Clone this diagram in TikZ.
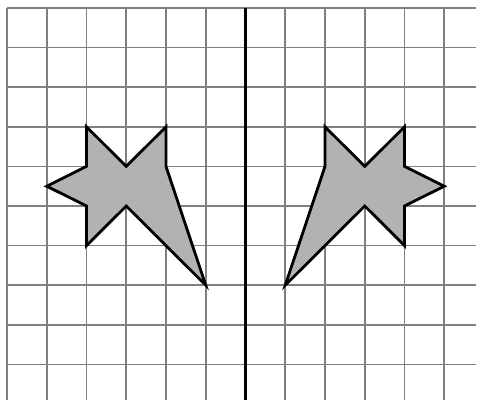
\documentclass[tikz,border=0pt]{standalone}
\begin{document}
\begin{tikzpicture}[x=1pt,y=-1pt,
  gridline/.style={draw=black!50, line width=1.6pt},
  axisline/.style={draw=black, line width=3pt},
  starshape/.style={draw=black, fill=black!30, line width=2.8pt, line join=miter}]
\useasboundingbox (0,0) rectangle (478,400);
\fill[white] (0,0) rectangle (478,400);
\begin{scope}[shift={(7,8)}, x=39.75pt, y=-39.6pt]
  \foreach \i in {0,...,11} \draw[gridline] (\i,0) -- (\i,9.9);
  \foreach \j in {0,...,9} \draw[gridline] (0,\j) -- (11.8,\j);
  \draw[axisline] (6,0) -- (6,9.9);
  % left star
  \draw[starshape] (2,3) -- (3,4) -- (4,3) -- (4,4) -- (5,7) -- (3,5) -- (2,6) -- (2,5) -- (1,4.5) -- (2,4) -- cycle;
  % right star (mirror image)
  \draw[starshape] (10,3) -- (9,4) -- (8,3) -- (8,4) -- (7,7) -- (9,5) -- (10,6) -- (10,5) -- (11,4.5) -- (10,4) -- cycle;
\end{scope}
\end{tikzpicture}
\end{document}
